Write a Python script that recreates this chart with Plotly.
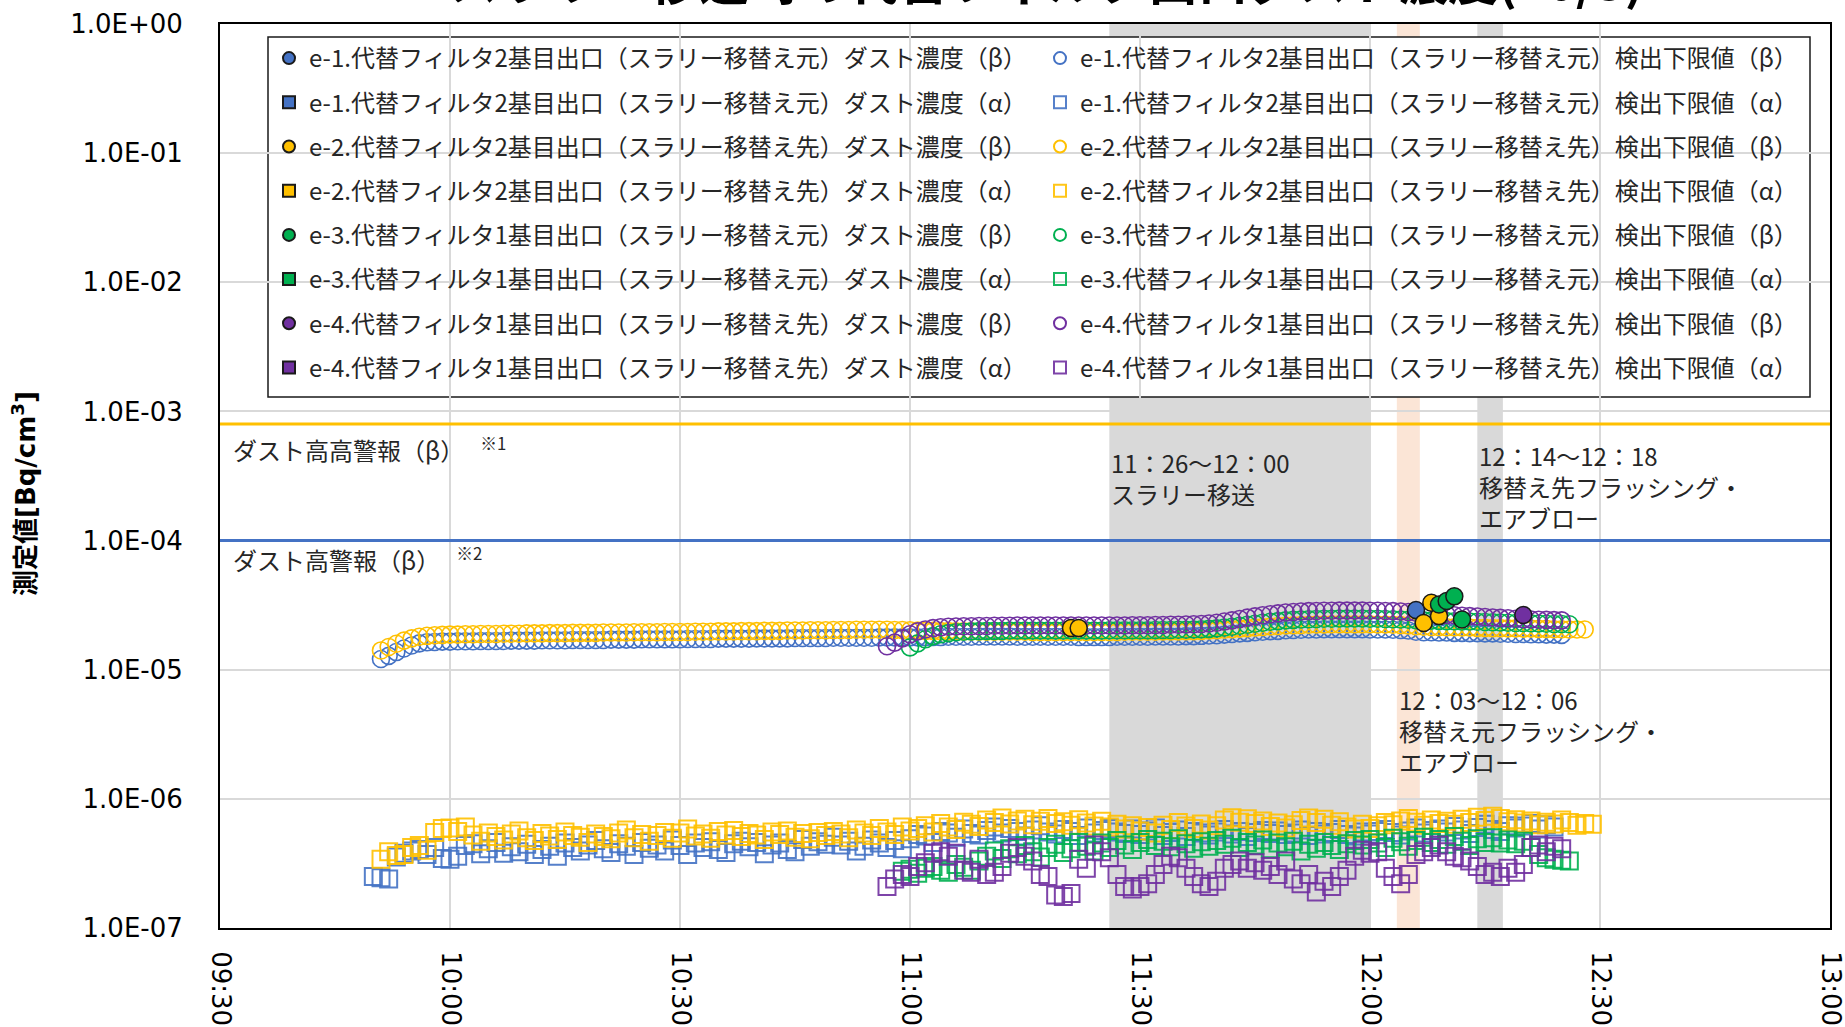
import plotly.graph_objects as go
import pandas as pd

DAY = "2023-10-03"

# ---------------- data ----------------
X_TICK_LABELS = ["09:30", "10:00", "10:30", "11:00", "11:30", "12:00", "12:30", "13:00"]
Y_TICK_VALUES = [1e-7, 1e-6, 1e-5, 1e-4, 1e-3, 1e-2, 1e-1, 1e0]
Y_TICK_LABELS = ["1.0E-07", "1.0E-06", "1.0E-05", "1.0E-04", "1.0E-03", "1.0E-02", "1.0E-01", "1.0E+00"]

ALARM_HH_BETA = 8.0e-4   # ダスト高高警報（β）
ALARM_H_BETA = 1.0e-4    # ダスト高警報（β）

# detection limits (β), one value per minute, unit 1e-5 Bq/cm3
E1_LOD_BETA_START = "09:51"
E1_LOD_BETA = [1.21, 1.28, 1.37, 1.46, 1.54, 1.60, 1.63,
               1.64, 1.65, 1.65, 1.66, 1.66, 1.66, 1.67, 1.67, 1.67, 1.67, 1.68, 1.68,
               1.68, 1.68, 1.69, 1.69, 1.69, 1.69, 1.70, 1.70, 1.70, 1.70, 1.70, 1.71, 1.71, 1.71, 1.71, 1.72, 1.72, 1.72, 1.72, 1.72,
               1.72, 1.73, 1.73, 1.73, 1.73, 1.74, 1.74, 1.74, 1.74, 1.74, 1.75, 1.75, 1.75, 1.75, 1.75,
               1.76, 1.76, 1.76, 1.76, 1.76, 1.77, 1.77, 1.77, 1.77, 1.77, 1.77, 1.78, 1.78, 1.78, 1.78,
               1.78, 1.78, 1.79, 1.79, 1.79, 1.80, 1.80, 1.80, 1.80, 1.81, 1.81, 1.81, 1.81, 1.81, 1.80, 1.80, 1.80, 1.80, 1.80, 1.80,
               1.80, 1.80, 1.79, 1.79, 1.79, 1.79, 1.79, 1.80, 1.80, 1.80, 1.80, 1.80, 1.81, 1.81, 1.81, 1.81, 1.82, 1.82, 1.83, 1.84,
               1.85, 1.87, 1.89, 1.91, 1.93, 1.95, 1.97, 1.99, 2.00, 2.02, 2.03, 2.04, 2.05,
               2.05, 2.06, 2.06, 2.06, 2.06, 2.06, 2.06, 2.05, 2.05, 2.05, 2.04, 2.03, 2.01,
               1.97, 1.95, 1.95, 1.94, 1.94, 1.93, 1.93, 1.92, 1.92, 1.91, 1.91, 1.90, 1.90, 1.89, 1.89, 1.88, 1.88, 1.87, 1.87, 1.86]
E2_LOD_BETA_START = "09:51"
E2_LOD_BETA = [1.41, 1.50, 1.59, 1.68, 1.75, 1.80, 1.83,
               1.85, 1.86, 1.87, 1.87, 1.88, 1.88, 1.89, 1.89, 1.89, 1.90, 1.90, 1.90,
               1.91, 1.91, 1.91, 1.92, 1.92, 1.92, 1.93, 1.93, 1.93, 1.93, 1.94, 1.94, 1.94, 1.94, 1.95, 1.95, 1.95, 1.95, 1.96, 1.96,
               1.96, 1.96, 1.97, 1.97, 1.97, 1.98, 1.98, 1.98, 1.99, 1.99, 1.99, 2.00, 2.00, 2.00, 2.01,
               2.01, 2.01, 2.02, 2.02, 2.02, 2.03, 2.03, 2.03, 2.04, 2.04, 2.04, 2.04, 2.04, 2.03, 2.03,
               2.02, 2.01, 2.00, 2.00, 1.99, 1.99, 1.98, 1.98, 1.98, 1.97, 1.97, 1.97, 1.97, 1.97, 1.97, 1.97, 1.96, 1.96, 1.96, 1.96,
               1.96, 1.96, 1.96, 1.96, 1.96, 1.96, 1.96, 1.96, 1.97, 1.97, 1.97, 1.97, 1.97, 1.98, 1.98, 1.98, 1.99, 1.99, 2.00, 2.01,
               2.02, 2.04, 2.06, 2.08, 2.10, 2.12, 2.14, 2.16, 2.18, 2.20, 2.21, 2.22, 2.23,
               2.24, 2.24, 2.25, 2.25, 2.25, 2.25, 2.25, 2.25, 2.24, 2.24, 2.23, 2.22, 2.20,
               2.17, 2.15, 2.14, 2.14, 2.13, 2.13, 2.12, 2.12, 2.11, 2.11, 2.10, 2.10, 2.09, 2.09, 2.08, 2.08, 2.07, 2.07, 2.06, 2.06,
               2.05, 2.05, 2.05]
E3_LOD_BETA_START = "11:00"
E3_LOD_BETA = [1.49, 1.60, 1.72, 1.82, 1.88, 1.92, 1.95, 1.97, 1.98, 1.99,
               2.00, 2.00, 2.00, 2.01, 2.01, 2.01, 2.01, 2.01, 2.01, 2.01, 2.01, 2.01, 2.01, 2.01, 2.01, 2.01, 2.02, 2.02, 2.02, 2.02,
               2.02, 2.02, 2.03, 2.03, 2.03, 2.04, 2.04, 2.05, 2.06, 2.07,
               2.09, 2.12, 2.15, 2.19, 2.23, 2.27, 2.31, 2.35, 2.38, 2.41, 2.43, 2.45, 2.46,
               2.47, 2.48, 2.48, 2.49, 2.49, 2.49, 2.49, 2.48, 2.48, 2.47, 2.46, 2.45, 2.44,
               2.42, 2.41, 2.40, 2.39, 2.38, 2.37, 2.36, 2.36, 2.35, 2.34, 2.33, 2.32, 2.31, 2.30, 2.30, 2.29, 2.28, 2.27, 2.26, 2.26, 2.25]
E4_LOD_BETA_START = "10:57"
E4_LOD_BETA = [1.52, 1.62, 1.75, 1.88, 1.98, 2.05, 2.10, 2.13, 2.15, 2.16,
               2.17, 2.17, 2.18, 2.18, 2.19, 2.19, 2.19, 2.20, 2.20, 2.20, 2.20, 2.20, 2.20, 2.20, 2.20, 2.20, 2.20, 2.20, 2.20, 2.20,
               2.20, 2.20, 2.21, 2.21, 2.21, 2.22, 2.22, 2.23, 2.23, 2.24, 2.25, 2.26, 2.28,
               2.31, 2.36, 2.41, 2.47, 2.53, 2.59, 2.64, 2.69, 2.73, 2.77, 2.80, 2.82, 2.84,
               2.85, 2.86, 2.86, 2.87, 2.87, 2.87, 2.87, 2.86, 2.86, 2.85, 2.84, 2.82, 2.80,
               2.76, 2.73, 2.70, 2.68, 2.66, 2.64, 2.62, 2.60, 2.58, 2.56, 2.54, 2.52, 2.50, 2.48, 2.46, 2.45, 2.44, 2.43, 2.42, 2.41]
BETA_UNIT = 1e-5

# detection limits (α), one value per minute, unit 1e-7 Bq/cm3
E1_LOD_ALPHA_START = "09:50"
E1_LOD_ALPHA = [2.50, 2.45, 2.40, 3.55, 3.80, 3.95, 4.05, 3.70, 4.20, 3.45,
                3.40, 3.60, 4.35, 4.50, 3.75, 4.10, 4.60, 3.80, 4.25, 3.90,
                4.45, 3.70, 4.05, 4.30, 3.60, 4.55, 4.20, 3.95, 4.40, 4.75,
                4.10, 3.85, 4.50, 4.30, 3.70, 4.60, 4.15, 4.40, 3.95, 4.80,
                4.35, 3.70, 4.55, 4.20, 4.65, 4.05, 3.85, 4.50, 4.70, 4.25,
                4.60, 3.75, 4.40, 4.55, 4.05, 3.90, 4.85, 4.30, 4.65, 4.45,
                5.05, 4.40, 4.70, 3.95, 4.30, 4.80, 4.55, 4.20, 4.75, 4.10,
                4.90, 5.30, 5.15, 4.60, 5.60, 5.45, 5.05, 5.85, 5.40, 5.25,
                5.70, 6.05, 5.45, 5.90, 5.60, 5.15, 5.75, 6.20, 5.55, 5.35,
                5.80, 5.60, 5.20, 5.95, 5.45, 5.70, 5.90, 5.55, 5.40, 5.85,
                5.30, 5.65, 5.95, 5.20, 5.50, 5.75, 5.10, 5.60, 5.45, 5.25,
                5.55, 5.80, 5.35, 5.60, 5.10, 5.50, 5.70, 5.40, 5.65, 5.30,
                5.45, 5.75, 5.20, 5.60, 5.35, 5.50, 5.80, 5.30, 5.15, 5.55,
                5.35, 5.60, 5.80, 5.50, 5.25, 5.65, 5.95, 5.45, 5.70, 5.85,
                5.55, 6.10, 5.75, 5.40, 6.00, 6.35, 5.80, 5.60, 6.20, 5.95,
                6.15, 6.45, 5.85, 6.30, 6.05]
E2_LOD_ALPHA_START = "09:51"
E2_LOD_ALPHA = [3.40, 3.90, 3.65, 3.70, 4.20, 4.35, 4.00, 5.50, 5.90,
                5.95, 5.60, 6.05, 5.25, 4.70, 5.45, 5.10, 4.80, 5.35, 5.65,
                5.00, 4.75, 5.40, 5.15, 4.85, 5.55, 5.20, 5.05, 4.60, 5.35,
                5.10, 4.90, 5.45, 5.75, 5.00, 5.30, 4.70, 5.20, 5.50, 4.95,
                5.45, 5.85, 5.15, 5.35, 4.95, 5.60, 5.25, 5.70, 5.10, 5.40,
                5.25, 4.85, 5.55, 5.30, 5.65, 5.05, 5.40, 4.90, 5.50, 5.20,
                5.60, 5.35, 5.00, 5.75, 5.45, 5.20, 5.90, 5.55, 5.30, 6.05,
                5.65, 5.90, 6.20, 5.55, 6.45, 6.05, 5.80, 6.60, 6.35, 6.10,
                6.85, 6.55, 7.10, 6.40, 6.75, 6.95, 6.30, 6.70, 7.05, 6.45,
                6.65, 6.25, 6.90, 6.50, 6.15, 6.70, 6.05, 6.35, 5.85, 6.20,
                5.65, 6.00, 5.45, 6.25, 5.80, 6.55, 6.15, 5.90, 6.40, 5.75,
                6.20, 6.85, 7.15, 6.60, 7.00, 6.45, 6.75, 6.10, 6.50, 5.95,
                6.30, 6.80, 7.10, 6.55, 6.95, 6.25, 6.65, 6.05, 5.85, 6.35,
                5.90, 6.20, 6.55, 6.30, 6.75, 7.05, 6.60, 6.25, 6.85, 6.45,
                6.70, 6.35, 6.95, 6.55, 7.20, 6.80, 7.35, 7.05, 6.65, 6.90,
                6.50, 6.75, 6.30, 6.60, 6.40, 6.85, 6.55, 6.25, 6.45, 6.35]
E3_LOD_ALPHA_START = "10:59"
E3_LOD_ALPHA = [2.75, 2.85, 2.65, 2.90, 3.00, 2.80, 2.70, 3.10, 2.95, 2.80,
                3.30, 3.60, 3.95, 3.45, 4.10, 3.75, 4.35, 3.90, 3.55, 4.20,
                4.45, 3.85, 4.10, 4.60, 4.30, 3.95, 4.55, 4.20, 4.75, 4.40,
                4.05, 4.60, 4.85, 4.35, 4.70, 4.25, 4.90, 4.50, 4.15, 4.65,
                4.30, 4.75, 4.45, 4.95, 4.20, 4.60, 4.40, 4.80, 4.10, 4.55,
                4.25, 4.70, 3.95, 4.45, 4.15, 4.60, 4.35, 4.05, 4.50, 4.75,
                4.40, 4.85, 4.55, 4.20, 4.95, 4.65, 4.30, 4.75, 5.05, 4.60,
                4.85, 4.45, 5.10, 4.70, 4.35, 4.90, 4.60, 5.00, 4.55, 4.80,
                4.50, 4.70, 4.20, 3.70, 3.50, 3.40, 3.35, 3.30]
E4_LOD_ALPHA_START = "10:57"
E4_LOD_ALPHA = [2.10, 2.40, 2.60, 2.50, 3.00, 3.20, 3.80, 3.90, 3.60, 3.80,
                2.80, 2.70, 3.40, 2.60, 2.70, 3.00, 3.80, 4.20, 3.60, 3.30,
                2.60, 2.50, 1.80, 1.75, 1.85, 3.40, 2.90, 4.40, 3.90, 3.50,
                2.60, 2.10, 2.00, 2.10, 2.20, 2.60, 3.10, 3.60, 3.50, 2.90,
                2.50, 2.20, 2.10, 2.30, 2.90, 3.10, 3.30, 2.90, 3.20, 2.80,
                3.00, 2.60, 3.30, 2.40, 2.20, 2.60, 1.90, 2.30, 2.10, 2.50,
                2.80, 3.60, 4.00, 3.80, 3.90, 2.90, 2.50, 2.20, 2.60, 3.70,
                3.90, 4.20, 4.40, 3.90, 3.60, 3.50, 3.30, 3.00, 2.60, 2.70,
                2.50, 2.90, 2.70, 3.10, 4.20, 4.40, 3.90, 4.30, 4.10]
ALPHA_UNIT = 1e-7

# detected dust concentrations (β)
E1_CONC_BETA_TIMES = ["12:06"]
E1_CONC_BETA = [2.9e-5]
E2_CONC_BETA_TIMES = ["11:21", "11:22", "12:07", "12:08", "12:09"]
E2_CONC_BETA = [2.1e-5, 2.1e-5, 2.3e-5, 3.3e-5, 2.6e-5]
E3_CONC_BETA_TIMES = ["12:09", "12:10", "12:11", "12:12"]
E3_CONC_BETA = [3.2e-5, 3.4e-5, 3.7e-5, 2.45e-5]
E4_CONC_BETA_TIMES = ["12:20"]
E4_CONC_BETA = [2.65e-5]

SLURRY_BAND = ("11:26", "12:00")
SRC_FLUSH_BAND = ("12:03:30", "12:06:30")
DST_FLUSH_BAND = ("12:14", "12:17:20")

SERIES_NAMES = [
    ("e-1", "代替フィルタ2基目出口（スラリー移替え元）"),
    ("e-2", "代替フィルタ2基目出口（スラリー移替え先）"),
    ("e-3", "代替フィルタ1基目出口（スラリー移替え元）"),
    ("e-4", "代替フィルタ1基目出口（スラリー移替え先）"),
]
COLORS = ["#4472C4", "#FFC000", "#00B050", "#7030A0"]

# ---------------- helpers ----------------
def t(hhmm):
    return pd.Timestamp(f"{DAY} {hhmm}")

def minute_series(start, n):
    return pd.date_range(t(start), periods=n, freq="1min")

X0, X1 = t("09:30"), t("13:00")
x_ticks = [t(s) for s in X_TICK_LABELS]

fig = go.Figure()

lod_beta = [(E1_LOD_BETA_START, E1_LOD_BETA), (E2_LOD_BETA_START, E2_LOD_BETA),
            (E3_LOD_BETA_START, E3_LOD_BETA), (E4_LOD_BETA_START, E4_LOD_BETA)]
lod_alpha = [(E1_LOD_ALPHA_START, E1_LOD_ALPHA), (E2_LOD_ALPHA_START, E2_LOD_ALPHA),
             (E3_LOD_ALPHA_START, E3_LOD_ALPHA), (E4_LOD_ALPHA_START, E4_LOD_ALPHA)]
conc_beta = [(E1_CONC_BETA_TIMES, E1_CONC_BETA), (E2_CONC_BETA_TIMES, E2_CONC_BETA),
             (E3_CONC_BETA_TIMES, E3_CONC_BETA), (E4_CONC_BETA_TIMES, E4_CONC_BETA)]

LEG_FONT = dict(family="Noto Sans CJK JP", size=24, color="#262626")

# alarm lines
for lvl, col in [(ALARM_HH_BETA, "#FFC000"), (ALARM_H_BETA, "#4472C4")]:
    fig.add_trace(go.Scatter(x=[X0, X1], y=[lvl, lvl], mode="lines",
                             line=dict(color=col, width=3), showlegend=False,
                             hoverinfo="skip", cliponaxis=True))

# α detection limits (open squares)
for i, (start, vals) in enumerate(lod_alpha):
    code, place = SERIES_NAMES[i]
    fig.add_trace(go.Scatter(
        x=minute_series(start, len(vals)), y=[v * ALPHA_UNIT for v in vals],
        mode="markers",
        marker=dict(symbol="square-open", size=17, color=COLORS[i], line=dict(width=2), opacity=0.9),
        name=f"{code}.{place}検出下限値（α）", legend="legend2", legendgroup=f"lod_a{i}",
        legendrank=2 * i + 2))

# β detection limits (open circles)
for i, (start, vals) in enumerate(lod_beta):
    code, place = SERIES_NAMES[i]
    fig.add_trace(go.Scatter(
        x=minute_series(start, len(vals)), y=[v * BETA_UNIT for v in vals],
        mode="markers",
        marker=dict(symbol="circle-open", size=17, color=COLORS[i], line=dict(width=1.6)),
        name=f"{code}.{place}検出下限値（β）", legend="legend2", legendgroup=f"lod_b{i}",
        legendrank=2 * i + 1))

# α concentrations (none detected)
for i in range(4):
    code, place = SERIES_NAMES[i]
    fig.add_trace(go.Scatter(
        x=[None], y=[None], mode="markers",
        marker=dict(symbol="square", size=15, color=COLORS[i], line=dict(width=1.5, color="#1a1a1a")),
        name=f"{code}.{place}ダスト濃度（α）", legend="legend", legendgroup=f"conc_a{i}",
        legendrank=2 * i + 2))

# β concentrations (filled circles)
for i, (times, vals) in enumerate(conc_beta):
    code, place = SERIES_NAMES[i]
    fig.add_trace(go.Scatter(
        x=[t(s) for s in times], y=vals, mode="markers",
        marker=dict(symbol="circle", size=17, color=COLORS[i], line=dict(width=1.5, color="#1a1a1a")),
        name=f"{code}.{place}ダスト濃度（β）", legend="legend", legendgroup=f"conc_b{i}",
        legendrank=2 * i + 1))

# ---------------- layout ----------------
PLOT_L, PLOT_R, PLOT_T, PLOT_B = 220, 1830, 24, 928
W, H = 1845, 1027
PW, PH = PLOT_R - PLOT_L, PLOT_B - PLOT_T

def px(xp):
    return (xp - PLOT_L) / PW

def py(yp):
    return 1 - (yp - PLOT_T) / PH

shapes = []
for (a, b), col in [(SLURRY_BAND, "#D9D9D9"), (SRC_FLUSH_BAND, "#FBE5D6"), (DST_FLUSH_BAND, "#D9D9D9")]:
    shapes.append(dict(type="rect", xref="x", yref="paper", x0=t(a), x1=t(b), y0=0, y1=1,
                       fillcolor=col, line=dict(width=0), layer="between"))
# legend frame
shapes.append(dict(type="rect", xref="paper", yref="paper", x0=px(268), x1=px(1810),
                   y0=py(397), y1=py(37), fillcolor="white",
                   line=dict(color="#1a1a1a", width=1.5), layer="between"))

ANN_FONT = dict(family="Noto Sans CJK JP", size=24, color="#262626")
annotations = [
    dict(text="<b>スラリー移送時の代替フィルタ出口ダスト濃度(10/3)</b>", xref="paper", yref="paper",
         x=px(1046), y=py(-22), xanchor="center", yanchor="middle", showarrow=False,
         font=dict(family="Noto Sans CJK JP", size=50, color="#000000")),
    dict(text="<b>測定値[Bq/cm<sup>3</sup>]</b>", xref="paper", yref="paper", x=px(24), y=py(494),
         xanchor="center", yanchor="middle", textangle=-90, showarrow=False,
         font=dict(family="DejaVu Sans, Noto Sans CJK JP", size=26, color="#000000")),
    dict(text="ダスト高高警報（β）   <sup>※1</sup>", xref="paper", yref="paper", x=px(231), y=py(449),
         xanchor="left", yanchor="middle", showarrow=False, font=ANN_FONT),
    dict(text="ダスト高警報（β）   <sup>※2</sup>", xref="paper", yref="paper", x=px(231), y=py(559),
         xanchor="left", yanchor="middle", showarrow=False, font=ANN_FONT),
    dict(text="11：26～12：00<br>スラリー移送", xref="x", yref="paper", x=t(SLURRY_BAND[0]), y=py(443),
         xanchor="left", yanchor="top", align="left", showarrow=False, font=ANN_FONT),
    dict(text="12：14～12：18<br>移替え先フラッシング・<br>エアブロー", xref="x", yref="paper",
         x=t(DST_FLUSH_BAND[0]), y=py(436), xanchor="left", yanchor="top", align="left",
         showarrow=False, font=ANN_FONT),
    dict(text="12：03～12：06<br>移替え元フラッシング・<br>エアブロー", xref="x", yref="paper",
         x=t(SRC_FLUSH_BAND[0]), y=py(680), xanchor="left", yanchor="top", align="left",
         showarrow=False, font=ANN_FONT),
]

legend_common = dict(yanchor="top", xanchor="left", orientation="v", bgcolor="rgba(0,0,0,0)",
                     borderwidth=0, font=LEG_FONT, tracegroupgap=10, itemsizing="constant",
                     traceorder="grouped", itemclick=False, itemdoubleclick=False)

fig.update_layout(
    width=W, height=H,
    margin=dict(l=PLOT_L, r=W - PLOT_R, t=PLOT_T, b=H - PLOT_B, pad=0, autoexpand=False),
    paper_bgcolor="white", plot_bgcolor="white",
    showlegend=True,
    legend=dict(x=px(269), y=py(36), **legend_common),
    legend2=dict(x=px(1040), y=py(36), **legend_common),
    xaxis=dict(type="date", range=[X0, X1], tickvals=x_ticks, ticktext=X_TICK_LABELS,
               tickangle=90, showgrid=True, gridcolor="#D9D9D9", gridwidth=1.5,
               showline=True, linecolor="#000000", linewidth=2, mirror=True, ticks="",
               ticklabelstandoff=16, automargin=False, ticklabeloverflow="allow",
               tickfont=dict(family="DejaVu Sans", size=26, color="#000000"), zeroline=False),
    yaxis=dict(type="log", range=[-7, 0], tickvals=Y_TICK_VALUES, ticktext=Y_TICK_LABELS,
               showgrid=True, gridcolor="#D9D9D9", gridwidth=1.5,
               showline=True, linecolor="#000000", linewidth=2, mirror=True, ticks="",
               ticklabelstandoff=30, automargin=False, ticklabeloverflow="allow",
               tickfont=dict(family="DejaVu Sans", size=26, color="#000000"), zeroline=False),
    shapes=shapes,
    annotations=annotations,
    hovermode=False,
)

fig.write_html("out.html")
